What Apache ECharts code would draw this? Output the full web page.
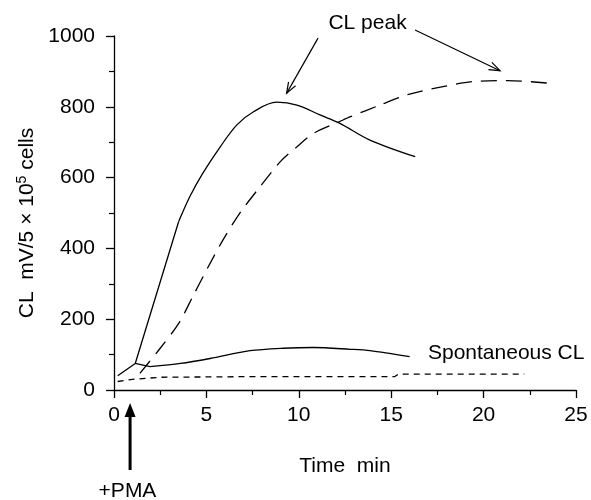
<!DOCTYPE html>
<html>
<head>
<meta charset="utf-8">
<title>CL response</title>
<style>
  html, body { margin: 0; padding: 0; background: #fff; }
  #main { width: 591px; height: 500px; }
</style>
<script src="https://cdn.jsdelivr.net/npm/echarts/dist/echarts.min.js"></script>
</head>
<body>
<div id="main"></div>
<script>
// values: time in min, CL in mV/5x10^5 cells
// straight start of the PMA curve, then its rounded part
var pmaRiseTime = [0.2, 1.15, 3.5];
var pmaRiseCL   = [40, 75, 476];
var pmaTime = [3.5, 4.1, 4.8, 5.75, 6.65, 7.55, 8.8, 9.9, 11.15, 12.2, 13.85, 16.3];
var pmaCL   = [476, 546, 612, 687, 749, 786, 813, 805, 777, 754, 706, 659];

var slowTime = [1.4, 2.5, 3.5, 4.3, 5.1, 5.9, 6.8, 7.9, 9.0, 9.9, 10.8, 12.2, 12.8, 14.4, 16.0, 17.8, 19.4, 21.3, 23.7];
var slowCL   = [47, 118, 188, 268, 348, 424, 499, 574, 645, 687, 725, 758, 772, 805, 836, 857, 871, 874, 866];

var spontStartTime = [1.15, 1.95];
var spontStartCL   = [75, 66];
var spontTime = [1.95, 3.6, 5.2, 7.36, 9.16, 10.8, 12.77, 13.85, 16.0];
var spontCL   = [66, 75, 89, 111, 118, 120, 115, 111, 94];

var baseTime = [0.2, 1.0, 2.5, 8, 15.2, 15.4, 22.2];
var baseCL   = [24, 30, 36, 38, 38, 45, 45];

var xTicks = [0, 5, 10, 15, 20, 25];
var yTicks = [0, 200, 400, 600, 800, 1000];

var font = 'Liberation Sans, Arial, sans-serif';

function pairs(xs, ys) {
  return xs.map(function (x, i) { return [x, ys[i]]; });
}

function lineSeries(name, xs, ys, dash, smooth) {
  return {
    name: name,
    type: 'line',
    data: pairs(xs, ys),
    symbol: 'none',
    smooth: smooth,
    lineStyle: { color: '#000', width: 1.3, type: dash }
  };
}

var axisLine = { lineStyle: { color: '#000', width: 1.3 } };

var option = {
  animation: false,
  backgroundColor: '#fff',
  textStyle: { fontFamily: font },
  grid: { left: 114, right: 15, top: 36, bottom: 110 },
  xAxis: {
    type: 'value',
    min: xTicks[0],
    max: xTicks[xTicks.length - 1],
    interval: 5,
    name: 'Time  min',
    nameLocation: 'middle',
    nameGap: 66,
    nameTextStyle: { fontSize: 21, color: '#000', fontFamily: font },
    axisLine: axisLine,
    axisTick: { length: 8, lineStyle: { color: '#000', width: 1.3 } },
    minorTick: { show: true, splitNumber: 2, length: 5, lineStyle: { color: '#000', width: 1.2 } },
    splitLine: { show: false },
    axisLabel: { fontSize: 21, color: '#000', margin: 15, fontFamily: font }
  },
  yAxis: {
    type: 'value',
    min: yTicks[0],
    max: yTicks[yTicks.length - 1],
    interval: 200,
    name: '{a|CL  mV/5 × 10}{s|5}{a| cells}',
    nameLocation: 'middle',
    nameGap: 75,
    nameTextStyle: {
      color: '#000',
      padding: [0, 20, 0, 0],
      rich: {
        a: { fontSize: 21, color: '#000', fontFamily: font, lineHeight: 24 },
        s: { fontSize: 14, color: '#000', fontFamily: font, lineHeight: 24, verticalAlign: 'top', padding: [0, 0, 8, 0] }
      }
    },
    axisLine: axisLine,
    axisTick: { length: 8, lineStyle: { color: '#000', width: 1.3 } },
    minorTick: { show: true, splitNumber: 2, length: 5, lineStyle: { color: '#000', width: 1.2 } },
    splitLine: { show: false },
    axisLabel: { fontSize: 21, color: '#000', margin: 19, fontFamily: font, formatter: function (v) { return String(v); } }
  },
  series: [
    lineSeries('CL + PMA rise', pmaRiseTime, pmaRiseCL, 'solid', false),
    lineSeries('CL + PMA', pmaTime, pmaCL, 'solid', 0.35),
    lineSeries('CL slow', slowTime, slowCL, [16, 9], 0.3),
    lineSeries('Spontaneous start', spontStartTime, spontStartCL, 'solid', false),
    lineSeries('Spontaneous CL', spontTime, spontCL, 'solid', 0.3),
    lineSeries('Baseline', baseTime, baseCL, [6, 5], false)
  ]
};

var chart = echarts.init(document.getElementById('main'), null, { renderer: 'canvas' });
chart.setOption(option);

// annotations placed in data coordinates, converted to pixels
function px(x, y) { return chart.convertToPixel({ gridIndex: 0 }, [x, y]); }

function openArrow(from, to) {
  var a = px(from[0], from[1]), b = px(to[0], to[1]);
  var dx = b[0] - a[0], dy = b[1] - a[1];
  var len = Math.sqrt(dx * dx + dy * dy);
  var ux = dx / len, uy = dy / len;
  var hl = 11, hw = 4;
  var bx = b[0] - ux * hl, by = b[1] - uy * hl;
  return [
    { type: 'line', shape: { x1: a[0], y1: a[1], x2: b[0], y2: b[1] }, style: { stroke: '#000', lineWidth: 1.2 } },
    { type: 'polyline', shape: { points: [[bx - uy * hw, by + ux * hw], b, [bx + uy * hw, by - ux * hw]] },
      style: { stroke: '#000', lineWidth: 1.2, fill: null } }
  ];
}

function text(x, y, str, align) {
  var p = px(x, y);
  return { type: 'text', x: p[0], y: p[1],
    style: { text: str, fontSize: 21, fontFamily: font, fill: '#000', align: align, verticalAlign: 'middle' } };
}

var pmaX = 0.87;
var tip = px(pmaX, -37), base = px(pmaX, -76), tail = px(pmaX, -226);
var els = [];
els = els.concat(openArrow([11.04, 994], [9.34, 838]));
els = els.concat(openArrow([16.29, 1017], [20.89, 902]));
els.push(text(13.72, 1037, 'CL peak', 'center'));
els.push(text(16.99, 104, 'Spontaneous CL', 'left'));
els.push({ type: 'line', shape: { x1: tail[0], y1: tail[1], x2: base[0], y2: base[1] }, style: { stroke: '#000', lineWidth: 3 } });
els.push({ type: 'polygon', shape: { points: [[tip[0], tip[1]], [tip[0] - 5.5, base[1]], [tip[0] + 5.5, base[1]]] }, style: { fill: '#000' } });
els.push(text(0.73, -285, '+PMA', 'center'));

chart.setOption({ graphic: els });
</script>
</body>
</html>
